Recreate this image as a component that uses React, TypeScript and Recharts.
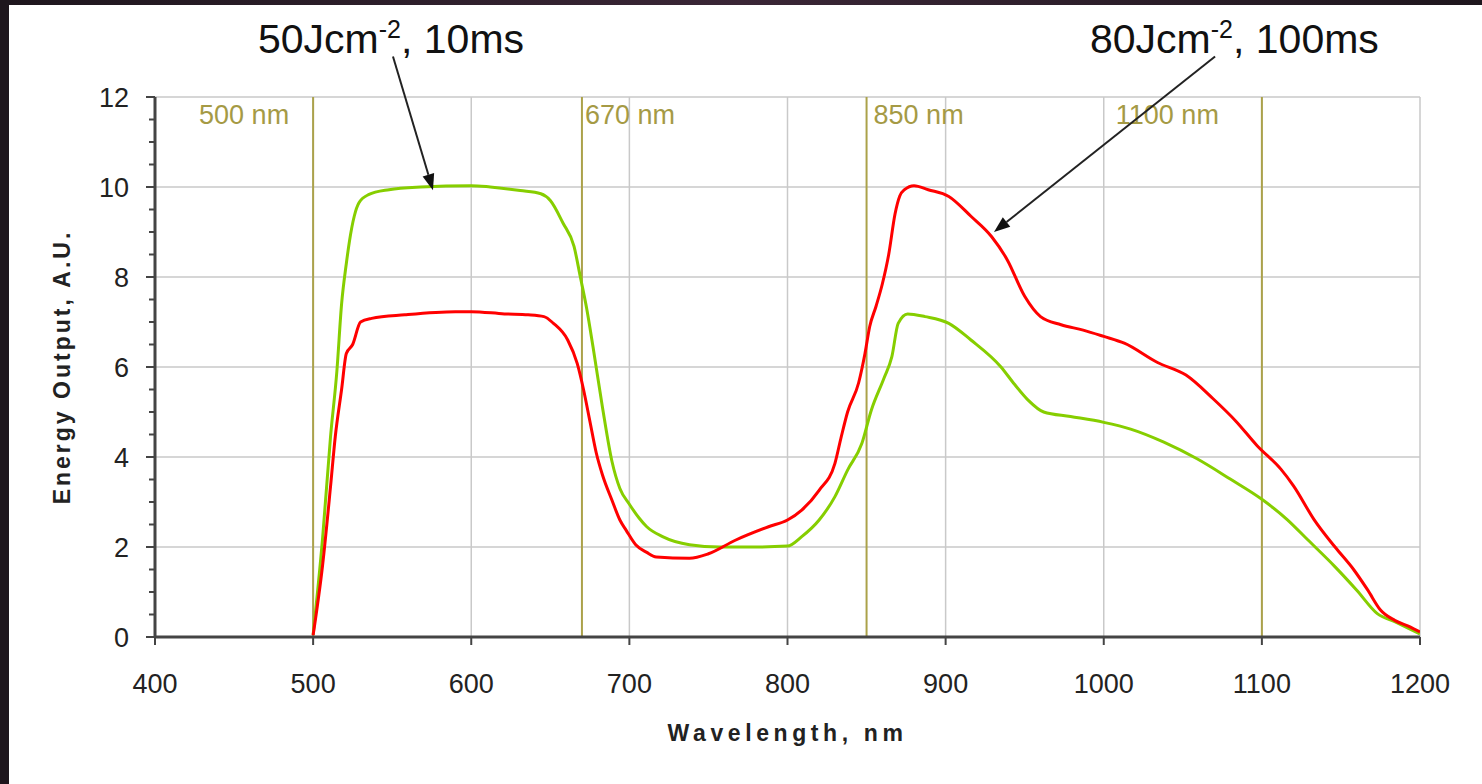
import React from 'react';
import { LineChart, Line, XAxis, YAxis, CartesianGrid, ReferenceLine, Label } from 'recharts';

// 50 Jcm-2, 10 ms pulse (green)
const greenWl = [500, 506, 511, 515, 518, 521, 523, 526, 529, 535, 548, 568, 600, 612, 631, 644, 650, 658, 665, 669, 673, 677, 683, 689, 694, 700, 706, 711, 721, 738, 757, 778, 800, 809, 820, 830, 838, 847, 853, 861, 866, 870, 876, 887, 902, 916, 935, 943, 952, 962, 979, 1000, 1017, 1038, 1059, 1080, 1100, 1116, 1129, 1146, 1160, 1173, 1184, 1200];
const greenVal = [0.05, 2.2, 4.45, 5.9, 7.4, 8.3, 8.8, 9.35, 9.65, 9.83, 9.94, 10.0, 10.03, 10.0, 9.92, 9.85, 9.7, 9.2, 8.68, 8.0, 7.3, 6.45, 5.1, 3.9, 3.3, 2.95, 2.65, 2.45, 2.23, 2.05, 2.0, 2.0, 2.02, 2.23, 2.6, 3.12, 3.71, 4.3, 5.04, 5.75, 6.23, 6.97, 7.18, 7.12, 6.97, 6.6, 6.0, 5.64, 5.27, 5.0, 4.9, 4.77, 4.62, 4.33, 3.96, 3.51, 3.06, 2.61, 2.16, 1.57, 1.04, 0.52, 0.34, 0.07];

// 80 Jcm-2, 100 ms pulse (red)
const redWl = [500, 506, 511, 514, 518, 521, 525, 530, 537, 558, 590, 600, 621, 636, 646, 652, 661, 667, 671, 675, 679, 683, 689, 694, 698, 704, 711, 717, 738, 750, 767, 788, 800, 809, 820, 830, 834, 838, 845, 849, 852, 856, 860, 864, 868, 871, 874, 880, 889, 902, 916, 929, 939, 950, 960, 973, 987, 1000, 1013, 1034, 1052, 1069, 1084, 1097, 1112, 1120, 1133, 1146, 1158, 1167, 1175, 1184, 1194, 1200];
const redVal = [0.04, 1.6, 3.34, 4.45, 5.5, 6.3, 6.5, 7.0, 7.08, 7.16, 7.23, 7.23, 7.18, 7.16, 7.12, 6.97, 6.6, 6.08, 5.5, 4.8, 4.1, 3.6, 3.04, 2.6, 2.37, 2.05, 1.88, 1.78, 1.75, 1.85, 2.15, 2.45, 2.6, 2.82, 3.26, 3.86, 4.45, 5.0, 5.65, 6.3, 6.9, 7.35, 7.85, 8.5, 9.4, 9.8, 9.94, 10.03, 9.94, 9.79, 9.35, 8.9, 8.38, 7.57, 7.12, 6.94, 6.82, 6.68, 6.53, 6.1, 5.82, 5.3, 4.78, 4.25, 3.73, 3.36, 2.61, 2.01, 1.5, 1.04, 0.6, 0.37, 0.22, 0.11];

const xTicks = [400, 500, 600, 700, 800, 900, 1000, 1100, 1200];
const yTicks = [0, 0.5, 1, 1.5, 2, 2.5, 3, 3.5, 4, 4.5, 5, 5.5, 6, 6.5, 7, 7.5, 8, 8.5, 9, 9.5, 10, 10.5, 11, 11.5, 12];
const yGrid = [2, 4, 6, 8, 10, 12];
const xGrid = [500, 600, 700, 800, 900, 1000, 1100, 1200];

const bandNm = [500, 670, 850, 1100];
const bandLabels = ['500 nm', '670 nm', '850 nm', '1100 nm'];
const bandLabelDx = [-24, 3, 7, -43];

// arrow start/end in data units: [nm, value]
const arrowLeft = [[550.5, 12.9], [575.8, 9.93]];
const arrowRight = [[1070.4, 12.9], [930.6, 9.0]];

const greenData = greenWl.map((wl, i) => ({ wl, v: greenVal[i] }));
const redData = redWl.map((wl, i) => ({ wl, v: redVal[i] }));

const FONT = '"Liberation Sans", Arial, sans-serif';
const Y_TICK_SIZE = 9;
const Y_TICK_MARGIN = 17;

const YTick = ({ x, y, payload }: any) => {
  const v = payload.value;
  const major = v % 2 === 0;
  const axisX = x + Y_TICK_MARGIN + Y_TICK_SIZE;
  return (
    <g>
      <line x1={axisX - (major ? 9 : 6)} x2={axisX} y1={y} y2={y} stroke="#444" strokeWidth={2} />
      {major && (
        <text x={x} y={y} dy="0.355em" textAnchor="end" fontSize={27} fontFamily={FONT} fill="#222">
          {v}
        </text>
      )}
    </g>
  );
};

const Arrow = (props: any) => {
  const { x1, y1, x2, y2 } = props;
  const ang = Math.atan2(y2 - y1, x2 - x1);
  const len = 16;
  const hw = 6;
  const bx = x2 - len * Math.cos(ang);
  const by = y2 - len * Math.sin(ang);
  const px = -Math.sin(ang) * hw;
  const py = Math.cos(ang) * hw;
  return (
    <g>
      <line x1={x1} y1={y1} x2={bx} y2={by} stroke="#222" strokeWidth={2} />
      <polygon points={`${x2},${y2} ${bx + px},${by + py} ${bx - px},${by - py}`} fill="#111" />
    </g>
  );
};

const bandLabel = (text: string, dx: number) => (props: any) => {
  const { viewBox } = props;
  return (
    <text
      x={viewBox.x + dx}
      y={viewBox.y + 27}
      textAnchor={dx < 0 ? 'end' : 'start'}
      fontSize={27}
      fontFamily={FONT}
      fill="#a59a45"
    >
      {text}
    </text>
  );
};

const App: React.FC = () => {
  return (
    <div style={{ position: 'absolute', left: 0, top: 0, width: 1482, height: 784, background: '#fff', overflow: 'hidden' }}>
      <LineChart width={1482} height={784} margin={{ top: 97, right: 62, bottom: 0, left: 0 }}>
        <CartesianGrid
          stroke="#c9c9c9"
          strokeWidth={1.5}
          horizontalValues={yGrid}
          verticalValues={xGrid}
        />
        <XAxis
          type="number"
          dataKey="wl"
          domain={[400, 1200]}
          ticks={xTicks}
          interval={0}
          height={147}
          tickSize={8}
          tickMargin={29}
          axisLine={{ stroke: '#444', strokeWidth: 3 }}
          tickLine={{ stroke: '#444', strokeWidth: 2 }}
          tick={{ fill: '#222', fontSize: 27, fontFamily: FONT }}
          allowDataOverflow
        >
          <Label
            content={(p: any) => (
              <text
                x={p.viewBox.x + p.viewBox.width / 2}
                y={p.viewBox.y + 104}
                textAnchor="middle"
                fontSize={23}
                fontWeight="bold"
                letterSpacing={4.6}
                fontFamily={FONT}
                fill="#222"
              >
                Wavelength, nm
              </text>
            )}
          />
        </XAxis>
        <YAxis
          type="number"
          domain={[0, 12]}
          ticks={yTicks}
          interval={0}
          width={155}
          tickSize={Y_TICK_SIZE}
          tickMargin={Y_TICK_MARGIN}
          tickLine={false}
          axisLine={{ stroke: '#444', strokeWidth: 3 }}
          tick={<YTick />}
          allowDataOverflow
        >
          <Label
            content={(p: any) => {
              const cx = p.viewBox.x + 62;
              const cy = p.viewBox.y + p.viewBox.height / 2;
              return (
                <text
                  x={cx}
                  y={cy}
                  dy="0.355em"
                  transform={`rotate(-90, ${cx}, ${cy})`}
                  textAnchor="middle"
                  fontSize={23}
                  fontWeight="bold"
                  letterSpacing={3}
                  fontFamily={FONT}
                  fill="#222"
                >
                  Energy Output, A.U.
                </text>
              );
            }}
          />
        </YAxis>
        {bandNm.map((nm, i) => (
          <ReferenceLine
            key={nm}
            x={nm}
            stroke="#aba24a"
            strokeWidth={2}
            label={bandLabel(bandLabels[i], bandLabelDx[i])}
          />
        ))}
        <Line
          data={greenData}
          dataKey="v"
          type="monotone"
          stroke="#86ce00"
          strokeWidth={3}
          dot={false}
          isAnimationActive={false}
        />
        <Line
          data={redData}
          dataKey="v"
          type="monotone"
          stroke="#ff0000"
          strokeWidth={3}
          dot={false}
          isAnimationActive={false}
        />
        <ReferenceLine
          segment={[{ x: arrowLeft[0][0], y: arrowLeft[0][1] }, { x: arrowLeft[1][0], y: arrowLeft[1][1] }]}
          ifOverflow="visible"
          shape={<Arrow />}
        />
        <ReferenceLine
          segment={[{ x: arrowRight[0][0], y: arrowRight[0][1] }, { x: arrowRight[1][0], y: arrowRight[1][1] }]}
          ifOverflow="visible"
          shape={<Arrow />}
        />
      </LineChart>
      <svg width={1482} height={784} style={{ position: 'absolute', left: 0, top: 0, pointerEvents: 'none' }}>
        <text x={258} y={53} fontSize={41} fontFamily={FONT} fill="#111">
          50Jcm<tspan fontSize={25} dy={-15}>-2</tspan>
          <tspan dy={15}>, 10ms</tspan>
        </text>
        <text x={1090} y={53} fontSize={41} fontFamily={FONT} fill="#111">
          80Jcm<tspan fontSize={25} dy={-15}>-2</tspan>
          <tspan dy={15}>, 100ms</tspan>
        </text>
      </svg>
      <div style={{ position: 'absolute', left: 0, top: 0, width: 1482, height: 5, background: 'linear-gradient(90deg, #1e161d, #3a2636, #1e161d)' }} />
      <div style={{ position: 'absolute', left: 0, top: 0, width: 9, height: 784, background: '#1e161d' }} />
    </div>
  );
};

export default App;
